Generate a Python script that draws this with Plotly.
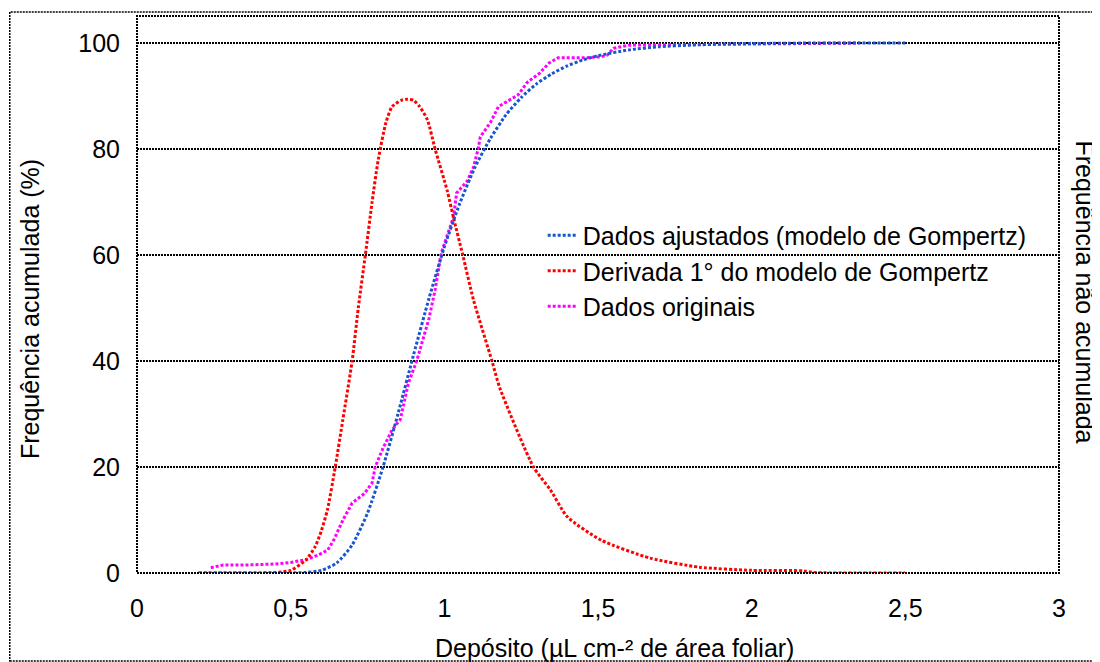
import plotly.graph_objects as go

# Dados ajustados (modelo de Gompertz)
fit_x = [0.20, 0.30, 0.40, 0.50, 0.55, 0.60, 0.65, 0.70, 0.75, 0.80, 0.85, 0.90,
         0.95, 1.00, 1.05, 1.10, 1.15, 1.20, 1.25, 1.30, 1.35, 1.40, 1.45, 1.50,
         1.60, 1.70, 1.80, 1.90, 2.00, 2.20, 2.50]
fit_y = [0.0, 0.0, 0.0, 0.0, 0.1, 0.5, 1.9, 5.3, 11.3, 19.9, 30.2, 41.2,
         51.8, 61.5, 69.7, 76.6, 82.0, 86.4, 89.7, 92.3, 94.2, 95.7, 96.8, 97.6,
         98.7, 99.3, 99.6, 99.8, 99.9, 100.0, 100.0]

# Derivada 1° do modelo de Gompertz
der_x = [0.20, 0.30, 0.40, 0.45, 0.50, 0.55, 0.58, 0.60, 0.62, 0.645, 0.67, 0.70,
         0.72, 0.743, 0.765, 0.785, 0.81, 0.83, 0.86, 0.88, 0.90, 0.92, 0.945,
         0.97, 1.01, 1.03, 1.06, 1.095, 1.155, 1.18, 1.29, 1.345, 1.40, 1.51,
         1.67, 1.83, 2.00, 2.17, 2.20, 2.50]
der_y = [0.0, 0.0, 0.0, 0.1, 0.5, 2.5, 5.0, 8.0, 12.0, 20.0, 29.0, 40.0,
         50.0, 60.0, 70.0, 78.0, 85.0, 88.0, 89.2, 89.4, 89.2, 88.0, 85.5,
         80.0, 72.0, 67.0, 60.0, 51.5, 40.0, 35.0, 20.0, 15.7, 10.6, 6.2,
         2.8, 1.1, 0.5, 0.4, 0.1, 0.0]

# Dados originais
orig_x = [0.24, 0.28, 0.35, 0.45, 0.50, 0.55, 0.59, 0.62, 0.64, 0.67, 0.70, 0.74,
          0.765, 0.775, 0.80, 0.83, 0.857, 0.883, 0.91, 0.92, 0.95, 0.97, 0.99,
          1.03, 1.04, 1.075, 1.095, 1.11, 1.117, 1.15, 1.176, 1.205, 1.24, 1.27,
          1.31, 1.34, 1.37, 1.45, 1.51, 1.53, 1.55, 1.60, 1.83, 2.00, 2.35]
orig_y = [1.0, 1.5, 1.5, 1.7, 2.0, 2.5, 3.4, 4.3, 6.2, 10.0, 13.2, 15.0,
          17.0, 20.0, 23.5, 27.0, 29.0, 35.8, 40.0, 42.0, 48.0, 53.4, 60.4,
          67.2, 71.7, 74.0, 76.6, 80.0, 82.3, 85.0, 88.0, 89.0, 90.2, 92.6,
          94.3, 96.2, 97.2, 97.2, 97.4, 97.7, 99.0, 99.6, 99.7, 99.9, 100.0]

x_ticks = [0, 0.5, 1, 1.5, 2, 2.5, 3]
x_labels = ["0", "0,5", "1", "1,5", "2", "2,5", "3"]
y_ticks = [0, 20, 40, 60, 80, 100]

FONT = "Liberation Sans, Arial, sans-serif"
FS = 25
DOT = "3px,2px"

fig = go.Figure()
fig.add_trace(go.Scatter(
    x=orig_x, y=orig_y, mode="lines", name="Dados originais", legendrank=3,
    line=dict(color="#ff00ff", width=3, dash=DOT),
))
fig.add_trace(go.Scatter(
    x=der_x, y=der_y, mode="lines", name="Derivada 1° do modelo de Gompertz", legendrank=2,
    line=dict(color="#ff0000", width=3, dash=DOT, shape="spline", smoothing=0.6),
))
fig.add_trace(go.Scatter(
    x=fit_x, y=fit_y, mode="lines", name="Dados ajustados (modelo de Gompertz)", legendrank=1,
    line=dict(color="#1955cc", width=3, dash=DOT, shape="spline", smoothing=0.6),
))

# borda da area do grafico e borda externa
fig.add_shape(type="rect", xref="x domain", yref="y domain", x0=0, x1=1, y0=0, y1=1,
              line=dict(color="black", width=2, dash="2px,1px"), layer="above")
fig.add_shape(type="rect", xref="paper", yref="paper", x0=-0.138, x1=1.041, y0=-0.158, y1=1.007,
              line=dict(color="black", width=1.5, dash="2px,1px"))

fig.add_annotation(text="Frequência acumulada (%)", textangle=-90, xref="paper", yref="paper",
                   x=-0.116, y=0.474, xanchor="center", yanchor="middle", showarrow=False,
                   font=dict(size=FS, color="black"))
fig.add_annotation(text="Frequência não acumulada", textangle=90, xref="paper", yref="paper",
                   x=1.028, y=0.504, xanchor="center", yanchor="middle", showarrow=False,
                   font=dict(size=FS, color="black"))
fig.add_annotation(text="Depósito (µL cm-² de área foliar)", xref="paper", yref="paper",
                   x=0.518, y=-0.135, xanchor="center", yanchor="middle", showarrow=False,
                   font=dict(size=FS, color="black"))

fig.update_layout(
    width=1100, height=662,
    paper_bgcolor="white", plot_bgcolor="white",
    margin=dict(l=129, r=49, t=8, b=97),
    font=dict(family=FONT, size=FS, color="black"),
    showlegend=True,
    legend=dict(x=0.44, y=0.647, xanchor="left", yanchor="top", bgcolor="rgba(0,0,0,0)",
                font=dict(size=FS), itemwidth=30),
    xaxis=dict(range=[0, 3], tickvals=x_ticks, ticktext=x_labels, showgrid=False,
               zeroline=False, showline=False, ticks="", ticklabelstandoff=18),
    yaxis=dict(range=[0, 105.1], tickvals=y_ticks, showgrid=True, gridcolor="black",
               gridwidth=2, griddash="2px,1px", zeroline=False, showline=False,
               ticks="", ticklabelstandoff=16),
)

fig.write_html("out.html")
